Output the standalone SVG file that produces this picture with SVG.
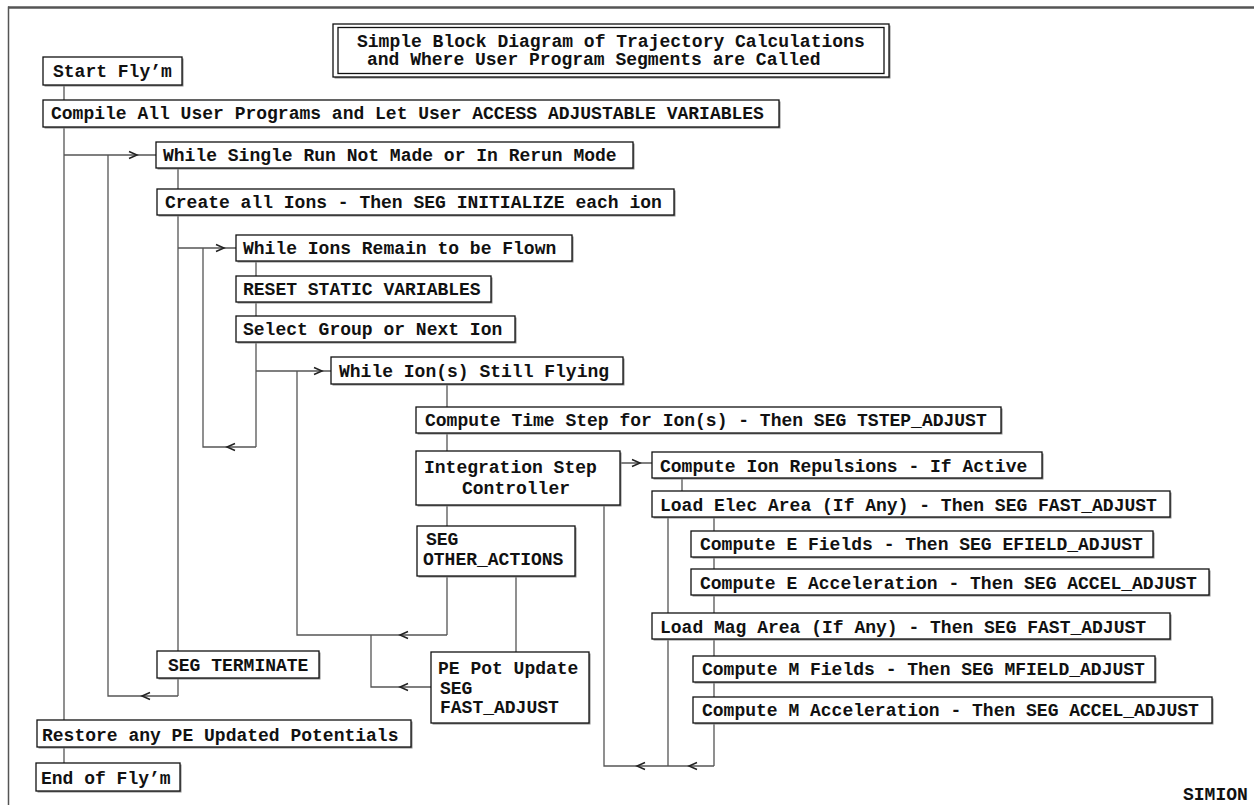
<svg xmlns="http://www.w3.org/2000/svg" width="1254" height="805" viewBox="0 0 1254 805">
<style>
.bg{fill:#fff}
.frame{stroke:#555;fill:none}
.sh{fill:#8a8a8a}
.bx{fill:#fff;stroke:#111;stroke-width:1.3}
.t{font-family:"Courier New","Liberation Mono",monospace;font-weight:bold;font-size:18px;fill:#111}
.c{stroke:#555;stroke-width:1.3;fill:none}
.ch{stroke:#222;stroke-width:1.5;fill:none}
</style>
<rect class="bg" x="0" y="0" width="1254" height="805"/>
<g id="frame">
<line class="frame" x1="8" y1="7.5" x2="1254" y2="7.5" stroke-width="2.5"/>
<line class="frame" x1="8.5" y1="6.5" x2="8.5" y2="805" stroke-width="1.5" stroke="#888"/>
</g>
<g id="connectors">
<path class="c" d="M64 85V100 M64 127V720 M64 747V763"/>
<path class="c" d="M64 155H156 M108 155V696H178 M178 168V189 M178 215V651 M178 678V696"/>
<path class="c" d="M178 248H236 M203 248V447H256 M256 261V276 M256 302V316 M256 342V447"/>
<path class="c" d="M256 371H331 M297 371V635H447 M447 384V407 M447 433V451 M447 505V526 M447 576V635"/>
<path class="c" d="M371 635V687H431 M516 576V652"/>
<path class="c" d="M620 463H652 M682 478V491 M714 518V531 M714 557V569 M714 596V613 M668 518V613"/>
<path class="c" d="M604 505V766H714 M668 640V766 M714 640V656 M714 682V697 M714 723V766"/>
<polyline class="ch" points="129,151.5 137,155 129,158.5"/>
<polyline class="ch" points="150,692.5 142,696 150,699.5"/>
<polyline class="ch" points="216,244.5 224,248 216,251.5"/>
<polyline class="ch" points="235,443.5 227,447 235,450.5"/>
<polyline class="ch" points="314,367.5 322,371 314,374.5"/>
<polyline class="ch" points="408,631.5 400,635 408,638.5"/>
<polyline class="ch" points="408,683.5 400,687 408,690.5"/>
<polyline class="ch" points="632,459.5 640,463 632,466.5"/>
<polyline class="ch" points="645,762.5 637,766 645,769.5"/>
<polyline class="ch" points="697,762.5 689,766 697,769.5"/>
</g>
<g id="title">
<rect class="sh" x="334.5" y="25.5" width="556" height="53"/>
<rect class="bx" x="333" y="24" width="556" height="53"/>
<rect class="bx" x="338" y="27.5" width="546" height="46" fill="none"/>
<text class="t" x="357" y="47">Simple Block Diagram of Trajectory Calculations</text>
<text class="t" x="367" y="65">and Where User Program Segments are Called</text>
</g>
<g id="start">
<rect class="sh" x="44.5" y="58.5" width="139" height="28"/>
<rect class="bx" x="43" y="57" width="139" height="28"/>
<text class="t" x="53" y="77">Start Fly’m</text>
</g>
<g id="compile">
<rect class="sh" x="44.5" y="101.5" width="736" height="27"/>
<rect class="bx" x="43" y="100" width="736" height="27"/>
<text class="t" x="51" y="119">Compile All User Programs and Let User ACCESS ADJUSTABLE VARIABLES</text>
</g>
<g id="while-run">
<rect class="sh" x="157.5" y="143.5" width="477" height="26"/>
<rect class="bx" x="156" y="142" width="477" height="26"/>
<text class="t" x="163" y="161">While Single Run Not Made or In Rerun Mode</text>
</g>
<g id="create">
<rect class="sh" x="158.5" y="190.5" width="517" height="26"/>
<rect class="bx" x="157" y="189" width="517" height="26"/>
<text class="t" x="165" y="208">Create all Ions - Then SEG INITIALIZE each ion</text>
</g>
<g id="while-ions">
<rect class="sh" x="237.5" y="236.5" width="336" height="26"/>
<rect class="bx" x="236" y="235" width="336" height="26"/>
<text class="t" x="243" y="254">While Ions Remain to be Flown</text>
</g>
<g id="reset">
<rect class="sh" x="237.5" y="277.5" width="255" height="26"/>
<rect class="bx" x="236" y="276" width="255" height="26"/>
<text class="t" x="243" y="295">RESET STATIC VARIABLES</text>
</g>
<g id="select">
<rect class="sh" x="237.5" y="317.5" width="279" height="26"/>
<rect class="bx" x="236" y="316" width="279" height="26"/>
<text class="t" x="243" y="335">Select Group or Next Ion</text>
</g>
<g id="while-flying">
<rect class="sh" x="332.5" y="358.5" width="292" height="27"/>
<rect class="bx" x="331" y="357" width="292" height="27"/>
<text class="t" x="339" y="377">While Ion(s) Still Flying</text>
</g>
<g id="tstep">
<rect class="sh" x="417.5" y="408.5" width="585" height="26"/>
<rect class="bx" x="416" y="407" width="585" height="26"/>
<text class="t" x="425" y="426">Compute Time Step for Ion(s) - Then SEG TSTEP_ADJUST</text>
</g>
<g id="integration">
<rect class="sh" x="417.5" y="452.5" width="204" height="54"/>
<rect class="bx" x="416" y="451" width="204" height="54"/>
<text class="t" x="424" y="473">Integration Step</text>
<text class="t" x="462" y="494">Controller</text>
</g>
<g id="other-actions">
<rect class="sh" x="418.5" y="527.5" width="158" height="50"/>
<rect class="bx" x="417" y="526" width="158" height="50"/>
<text class="t" x="426" y="545">SEG</text>
<text class="t" x="423" y="565">OTHER_ACTIONS</text>
</g>
<g id="repulsions">
<rect class="sh" x="653.5" y="453.5" width="390" height="26"/>
<rect class="bx" x="652" y="452" width="390" height="26"/>
<text class="t" x="660" y="472">Compute Ion Repulsions - If Active</text>
</g>
<g id="load-elec">
<rect class="sh" x="653.5" y="492.5" width="518" height="26"/>
<rect class="bx" x="652" y="491" width="518" height="26"/>
<text class="t" x="660" y="511">Load Elec Area (If Any) - Then SEG FAST_ADJUST</text>
</g>
<g id="e-fields">
<rect class="sh" x="692.5" y="532.5" width="462" height="26"/>
<rect class="bx" x="691" y="531" width="462" height="26"/>
<text class="t" x="700" y="550">Compute E Fields - Then SEG EFIELD_ADJUST</text>
</g>
<g id="e-accel">
<rect class="sh" x="692.5" y="570.5" width="518" height="26"/>
<rect class="bx" x="691" y="569" width="518" height="26"/>
<text class="t" x="700" y="589">Compute E Acceleration - Then SEG ACCEL_ADJUST</text>
</g>
<g id="load-mag">
<rect class="sh" x="653.5" y="614.5" width="518" height="26"/>
<rect class="bx" x="652" y="613" width="518" height="26"/>
<text class="t" x="660" y="633">Load Mag Area (If Any) - Then SEG FAST_ADJUST</text>
</g>
<g id="m-fields">
<rect class="sh" x="694.5" y="657.5" width="462" height="26"/>
<rect class="bx" x="693" y="656" width="462" height="26"/>
<text class="t" x="702" y="675">Compute M Fields - Then SEG MFIELD_ADJUST</text>
</g>
<g id="m-accel">
<rect class="sh" x="694.5" y="698.5" width="519" height="26"/>
<rect class="bx" x="693" y="697" width="519" height="26"/>
<text class="t" x="702" y="716">Compute M Acceleration - Then SEG ACCEL_ADJUST</text>
</g>
<g id="terminate">
<rect class="sh" x="158.5" y="652.5" width="162" height="27"/>
<rect class="bx" x="157" y="651" width="162" height="27"/>
<text class="t" x="168" y="671">SEG TERMINATE</text>
</g>
<g id="pe-pot">
<rect class="sh" x="432.5" y="653.5" width="158" height="71"/>
<rect class="bx" x="431" y="652" width="158" height="71"/>
<text class="t" x="438" y="674">PE Pot Update</text>
<text class="t" x="440" y="694">SEG</text>
<text class="t" x="440" y="713">FAST_ADJUST</text>
</g>
<g id="restore">
<rect class="sh" x="38.5" y="721.5" width="374" height="27"/>
<rect class="bx" x="37" y="720" width="374" height="27"/>
<text class="t" x="42" y="741">Restore any PE Updated Potentials</text>
</g>
<g id="end">
<rect class="sh" x="37.5" y="764.5" width="144" height="28"/>
<rect class="bx" x="36" y="763" width="144" height="28"/>
<text class="t" x="41" y="784">End of Fly’m</text>
</g>
<text class="t" x="1183" y="800">SIMION</text>
</svg>
